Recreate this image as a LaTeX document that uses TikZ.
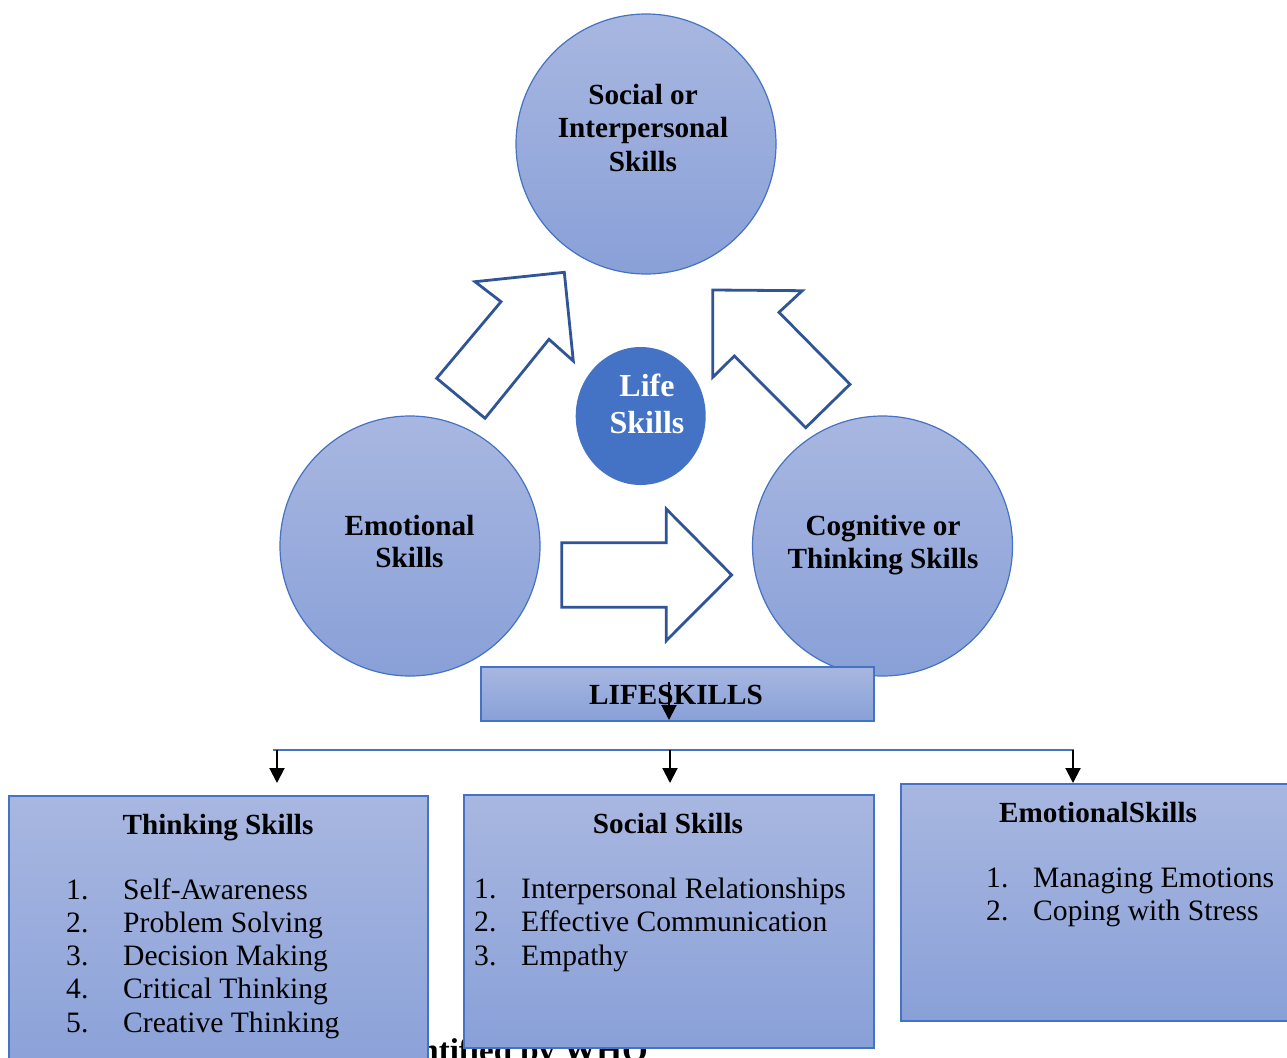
\documentclass[tikz,border=0pt]{standalone}
\usepackage{fontspec}
\setmainfont{Liberation Serif}
\usetikzlibrary{shapes.geometric,arrows.meta}
\definecolor{accent}{HTML}{4472C4}
\definecolor{arrowline}{HTML}{2F5597}
\definecolor{shadetop}{RGB}{168,183,224}
\definecolor{shadebot}{RGB}{137,160,216}
\tikzset{
  bubble/.style={circle, draw=accent, line width=1.2pt, top color=shadetop,
    bottom color=shadebot, minimum size=260pt, inner sep=0pt},
  panel/.style={rectangle, draw=accent, line width=1.5pt, top color=shadetop,
    bottom color=shadebot, anchor=north west, inner sep=0pt},
  head/.style={font=\fontsize{29.2}{33.5}\selectfont\bfseries, anchor=base, inner sep=0pt},
  num/.style={font=\fontsize{29.6}{33.5}\selectfont, anchor=base west, inner sep=0pt},
  item/.style={font=\fontsize{29.6}{33.5}\selectfont, anchor=base west, inner sep=0pt},
  blockarrow/.style={draw=arrowline, fill=white, line width=2.8pt, line join=miter},
  feed/.style={draw=black, line width=2pt, -{Triangle[width=15pt,length=15pt]}},
  bus/.style={draw=accent, line width=1.5pt},
}
\begin{document}
\begin{tikzpicture}[x=1pt,y=-1pt]
\useasboundingbox (0,0) rectangle (1287,1057);

% three skill circles and the central hub
\node[bubble] (social) at (646,144) {};
\node[bubble] (emotional) at (410,546) {};
\node[bubble] (cognitive) at (882.5,546) {};
\node[ellipse, fill=accent, minimum width=130pt, minimum height=138pt, inner sep=0pt] (hub) at (640.7,416) {};

\node[head] (soc1) at (643,104) {Social or};
\node[head] (soc2) at (643,137.5) {Interpersonal};
\node[head] (soc3) at (643,171) {Skills};
\node[head] (emo1) at (409.5,535) {Emotional};
\node[head] (emo2) at (409.5,567) {Skills};
\node[head] (cog1) at (883,535) {Cognitive or};
\node[head] (cog2) at (883,568) {Thinking Skills};
\node[head, text=white, font=\fontsize{32}{37}\selectfont\bfseries] (hub1) at (647,396) {Life};
\node[head, text=white, font=\fontsize{32}{37}\selectfont\bfseries] (hub2) at (647,433) {Skills};

% block arrows between the circles
\draw[blockarrow] (475,281.7) -- (564.3,272.3) -- (573.3,361) -- (549,339.3)
  -- (485,418.3) -- (436.7,378.3) -- (501,301.7) -- cycle;
\draw[blockarrow] (712.7,290) -- (802.3,290.7) -- (779,312.3) -- (850,384.3)
  -- (805.7,427.7) -- (734.3,356) -- (712.7,377.3) -- cycle;
\draw[blockarrow] (561.7,542.7) -- (666.3,542.7) -- (666.3,509) -- (731.7,575)
  -- (666.3,640.7) -- (666.3,607.3) -- (561.7,607.3) -- cycle;

% caption line behind the lower panels
\node[font=\fontsize{33}{38}\selectfont\bfseries, anchor=base east, inner sep=0pt] (caption) at (648,1061) {Identified by WHO};

% title bar
\node[panel, minimum width=393pt, minimum height=54pt] (lifeskills) at (480,666) {};
\node[head] (lifetitle) at (676,704) {LIFESKILLS};
\coordinate (drop) at (669,682);
\coordinate (dropend) at (669,720);
\draw[feed] (drop) -- (dropend);

% distribution bus
\coordinate (busL) at (273,750);
\coordinate (busR) at (1074,750);
\coordinate (tapA) at (277,750);
\coordinate (tapB) at (670,750);
\coordinate (tapC) at (1073,750);
\coordinate (endA) at (277,783);
\coordinate (endB) at (670,783);
\coordinate (endC) at (1073,783);
\draw[bus] (busL) -- (busR);
\draw[feed] (tapA) -- (endA);
\draw[feed] (tapB) -- (endB);
\draw[feed] (tapC) -- (endC);

% lower panels
\node[panel, minimum width=419pt, minimum height=285pt] (thinking) at (8,795) {};
\node[panel, minimum width=410pt, minimum height=253pt] (socialbox) at (463,794) {};
\node[panel, minimum width=410pt, minimum height=237pt] (emotionbox) at (900,783) {};

\node[head] (th) at (218,834) {Thinking Skills};
\node[num] (tn1) at (66,899) {1.};   \node[item] (ti1) at (123,899) {Self-Awareness};
\node[num] (tn2) at (66,932.3) {2.}; \node[item] (ti2) at (123,932.3) {Problem Solving};
\node[num] (tn3) at (66,965.5) {3.}; \node[item] (ti3) at (123,965.5) {Decision Making};
\node[num] (tn4) at (66,998.8) {4.}; \node[item] (ti4) at (123,998.8) {Critical Thinking};
\node[num] (tn5) at (66,1032) {5.};  \node[item] (ti5) at (123,1032) {Creative Thinking};

\node[head] (sh) at (668,833) {Social Skills};
\node[num] (sn1) at (474,898) {1.};   \node[item] (si1) at (521,898) {Interpersonal Relationships};
\node[num] (sn2) at (474,931.5) {2.}; \node[item] (si2) at (521,931.5) {Effective Communication};
\node[num] (sn3) at (474,965) {3.};   \node[item] (si3) at (521,965) {Empathy};

\node[head] (eh) at (1098,822) {EmotionalSkills};
\node[num] (en1) at (986,887) {1.}; \node[item] (ei1) at (1033,887) {Managing Emotions};
\node[num] (en2) at (986,920) {2.}; \node[item] (ei2) at (1033,920) {Coping with Stress};
\end{tikzpicture}
\end{document}
